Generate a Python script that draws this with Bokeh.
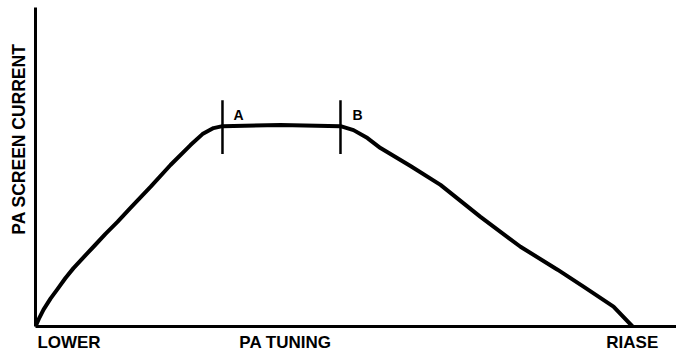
from bokeh.plotting import figure
from bokeh.models import Range1d, FixedTicker, Label, Title
from bokeh.embed import file_html
from bokeh.resources import INLINE

# PA tuning (0 = LOWER end, 100 = right end of frame) vs relative PA screen current
tuning = [0.0, 0.62, 1.25, 2.34, 3.43, 4.68, 5.93, 7.49, 9.05, 10.92, 12.79,
          14.82, 17.94, 21.06, 24.18, 26.05, 27.77, 29.17, 38.22, 47.58,
          49.61, 51.79, 53.82, 58.50, 63.18, 69.42, 75.66, 81.44, 85.49,
          90.17, 93.14]
current = [0.0, 2.81, 5.31, 8.75, 11.7, 15.2, 18.3, 21.7, 25.0, 29.06, 32.81,
           37.19, 43.75, 50.63, 56.88, 60.31, 62.19, 62.81, 63.13, 62.81,
           61.56, 59.06, 55.94, 50.31, 44.38, 34.38, 25.0, 17.81, 12.5,
           6.25, 0.0]

marker_x = [29.17, 47.58]
marker_names = ["A", "B"]
marker_low = 54.06
marker_high = 70.94
marker_label_y = 66.25

tick_pos = [5.23, 39.0, 93.1]
tick_labels = ["LOWER", "PA TUNING", "RIASE"]
y_title = "PA SCREEN CURRENT"

FONT = "Liberation Sans"

p = figure(width=676, height=354, output_backend="svg", toolbar_location=None,
           x_range=Range1d(0, 100), y_range=Range1d(0, 100),
           min_border_left=35, min_border_right=0, min_border_top=7,
           min_border_bottom=27)
p.outline_line_color = None
p.grid.visible = False
p.background_fill_color = "white"
p.border_fill_color = "white"

# x axis
p.xaxis.ticker = FixedTicker(ticks=tick_pos)
p.xaxis.major_label_overrides = {t: l for t, l in zip(tick_pos, tick_labels)}
p.xaxis.major_tick_line_color = None
p.xaxis.minor_tick_line_color = None
p.xaxis.major_tick_out = 0
p.xaxis.major_tick_in = 0
p.xaxis.major_label_standoff = 6
p.xaxis.major_label_text_font = FONT
p.xaxis.major_label_text_font_style = "bold"
p.xaxis.major_label_text_font_size = "17px"
p.xaxis.major_label_text_color = "black"
p.xaxis.axis_line_width = 3
p.xaxis.axis_line_color = "black"

# y axis
p.yaxis.ticker = FixedTicker(ticks=[])
p.yaxis.major_tick_line_color = None
p.yaxis.minor_tick_line_color = None
p.yaxis.major_tick_out = 0
p.yaxis.major_label_standoff = 0
p.yaxis.major_label_text_font_size = "0px"
p.yaxis.axis_line_width = 3
p.yaxis.axis_line_color = "black"

p.add_layout(Title(text=y_title, align="right", offset=36,
                   text_font=FONT, text_font_style="bold",
                   text_font_size="17.5px", text_color="black",
                   standoff=13), "left")

p.line(tuning, current, line_width=4, line_color="black",
       line_join="round", line_cap="round")

p.segment(x0=marker_x, y0=[marker_low] * 2, x1=marker_x, y1=[marker_high] * 2,
          line_width=2.5, line_color="black")

for mx, name, dx in zip(marker_x, marker_names, [11, 12]):
    p.add_layout(Label(x=mx, y=marker_label_y, x_offset=dx, text=name,
                       text_font=FONT, text_font_style="bold",
                       text_font_size="14px", text_color="black",
                       text_align="left", text_baseline="alphabetic"))

open("out.html", "w").write(file_html(p, INLINE))
